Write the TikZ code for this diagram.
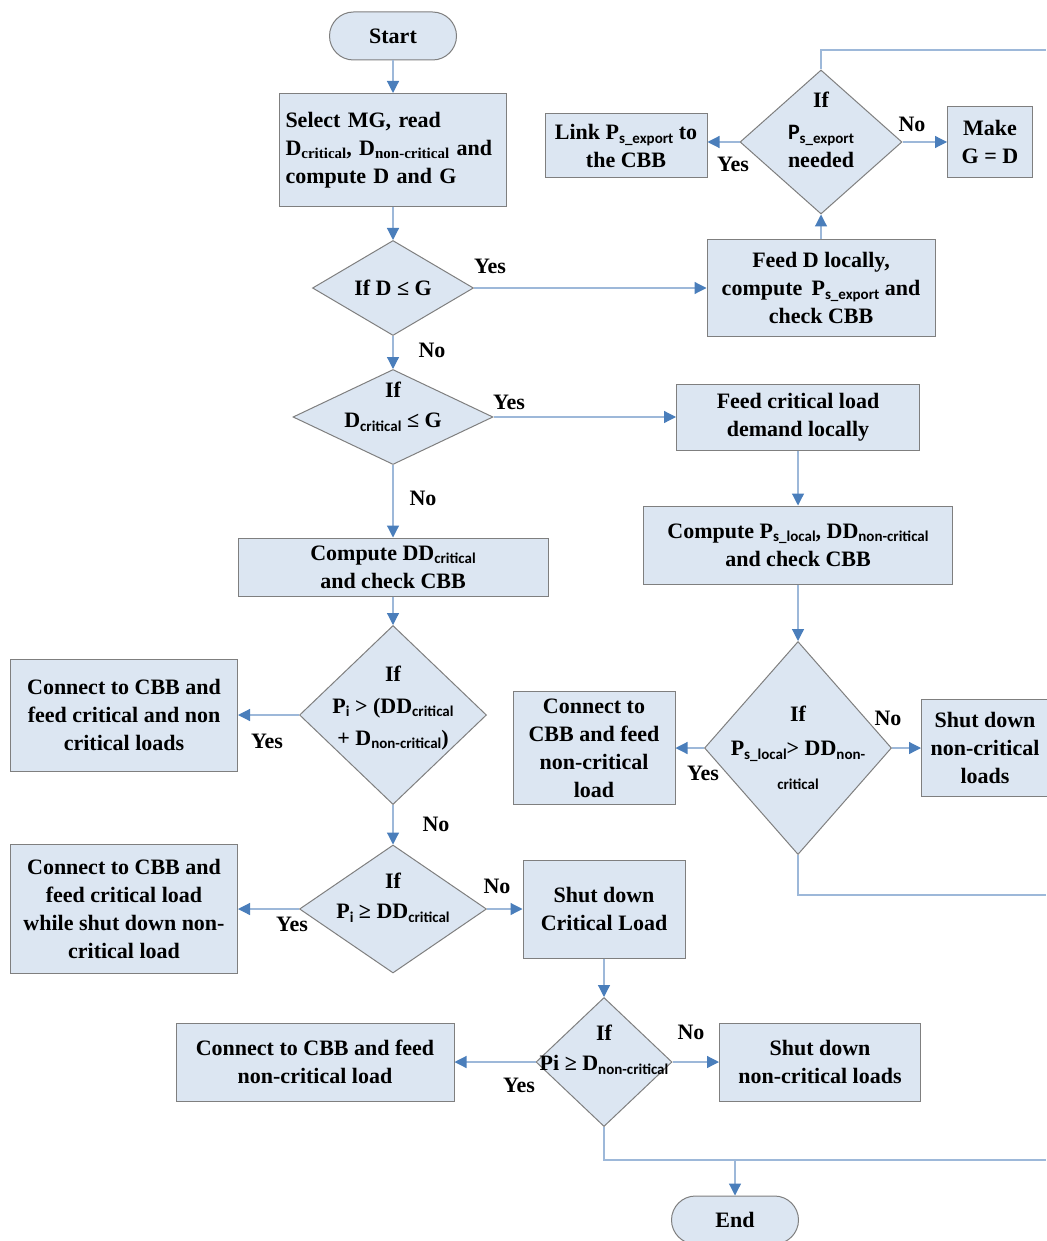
\documentclass[tikz,border=0pt]{standalone}
\usepackage{fontspec}
\setmainfont{Liberation Serif}
\newfontfamily\subfont{Carlito}
\usetikzlibrary{arrows.meta,positioning,shapes.geometric}
\definecolor{fillc}{HTML}{DCE6F2}
\definecolor{bordc}{HTML}{7F7F7F}
\definecolor{linec}{HTML}{9DB8D9}
\definecolor{arrc}{HTML}{4A7EBB}
\newcommand{\lo}[1]{\raisebox{-0.35ex}{\fontsize{15}{15}\selectfont\subfont #1}}
\newcommand{\los}[1]{\raisebox{-0.35ex}{\fontsize{15}{15}\selectfont #1}}

\begin{document}
\begin{tikzpicture}[x=1pt,y=-1pt,
      font=\fontsize{22}{28}\selectfont\bfseries,
      box/.style={draw=bordc,fill=fillc,line width=1pt,align=center,inner sep=2pt},
      term/.style={box,rounded corners=24pt,minimum width=127pt,minimum height=48pt},
      dec/.style={draw=bordc,fill=fillc,line width=1pt,diamond,inner sep=0pt},
      dtxt/.style={align=center,inner sep=0pt},
      line/.style={draw=linec,line width=1.2pt},
      arr/.style={line,-{Triangle[length=12pt,width=12pt,color=arrc]}}]
    \useasboundingbox (0,0) rectangle (1046,1241);
    % main column
    \node[term] (start) at (393,36) {Start};
    \node[box,minimum width=227pt,minimum height=113pt,align=left,text width=215pt] (sel) at (393,150)
      {Select MG, read\\D\los{critical}, D\los{non-critical} and\\compute D and G};
    \node[dec,minimum width=161pt,minimum height=95pt,label={[dtxt]center:If D ≤ G}] (d1) at (393,288) {};
    \node[dec,minimum width=200pt,minimum height=95pt,label={[dtxt,yshift=10pt]center:{If\\[2pt]D\lo{critical} ≤ G}}] (d3) at (393,417) {};
    \node[box,minimum width=310pt,minimum height=58pt] (ddc) at (393,567) {Compute DD\lo{critical}\\and check CBB};
    \node[dec,minimum width=187pt,minimum height=179pt,label={[dtxt,yshift=7pt]center:{If\\[4pt]P\lo{i} > (DD\lo{critical}\\[4pt]+ D\lo{non-critical})}}] (d5) at (393,715) {};
    \node[dec,minimum width=187pt,minimum height=128pt,label={[dtxt,yshift=11pt]center:{If\\[2pt]P\lo{i} ≥ DD\lo{critical}}}] (d6) at (393,909) {};
    \node[box,minimum width=227pt,minimum height=112pt] (conn5) at (124,715) {Connect to CBB and\\feed critical and non\\critical loads};
    \node[box,minimum width=227pt,minimum height=129pt] (conn6) at (124,909) {Connect to CBB and\\feed critical load\\while shut down non-\\critical load};
    \node[box,minimum width=162pt,minimum height=98pt] (shutc) at (604,909) {Shut down\\Critical Load};
    \node[dec,minimum width=136pt,minimum height=129pt,label={[dtxt,yshift=12pt]center:{If\\[2pt]Pi ≥ D\lo{non-critical}}}] (d7) at (604,1062) {};
    \node[box,minimum width=278pt,minimum height=78pt] (conn7) at (315,1062) {Connect to CBB and feed\\non-critical load};
    \node[box,minimum width=201pt,minimum height=78pt] (shut7) at (820,1062) {Shut down\\non-critical loads};
    \node[term] (end) at (735,1220) {End};
    % upper right
    \node[box,minimum width=228pt,minimum height=96pt] (feedD) at (821,288) {Feed D locally,\\compute\, P\lo{s\_export} and\\check CBB};
    \node[dec,minimum width=162pt,minimum height=144pt,label={[dtxt,yshift=12pt]center:{If\\[4pt]{\subfont P\lo{s\_export}}\\needed}}] (d2) at (821,142) {};
    \node[box,minimum width=162pt,minimum height=64pt] (link) at (626,146) {Link P\lo{s\_export} to\\the CBB};
    \node[box,minimum width=85pt,minimum height=71pt] (make) at (990,142) {Make\\G = D};
    % right column
    \node[box,minimum width=243pt,minimum height=66pt] (crit) at (798,417) {Feed critical load\\demand locally};
    \node[box,minimum width=309pt,minimum height=78pt] (cloc) at (798,545) {Compute P\lo{s\_local}, DD\lo{non-critical}\\and check CBB};
    \node[dec,minimum width=187pt,minimum height=213pt,label={[dtxt]center:{If\\[6pt]P\lo{s\_local}> DD\lo{non-}\\[2pt]\lo{critical}}}] (d4) at (798,748) {};
    \node[box,minimum width=162pt,minimum height=113pt] (conn4) at (594,748) {Connect to\\CBB and feed\\non-critical\\load};
    \node[box,minimum width=127pt,minimum height=97pt] (shut4) at (985,748) {Shut down\\non-critical\\loads};
    % loose ends
    \coordinate (r1) at (1046,50);
    \coordinate (r2) at (1046,895);
    \coordinate (r3) at (1046,1160);
    \coordinate (j) at (735,1160);
    % connectors
    \draw[arr] (start) -- (sel);
    \draw[arr] (sel) -- (d1);
    \draw[arr] (d1.east) -- (feedD.west);
    \draw[arr] (feedD) -- (d2.south);
    \draw[arr] (d2.west) -- (d2.west -| link.east);
    \draw[arr] (d2.east) -- (make.west);
    \draw[line] (d2.north) |- (r1);
    \draw[arr] (d1.south) -- (d3.north);
    \draw[arr] (d3.east) -- (crit.west);
    \draw[arr] (crit) -- (cloc);
    \draw[arr] (cloc) -- (d4.north);
    \draw[arr] (d4.west) -- (conn4.east);
    \draw[arr] (d4.east) -- (shut4.west);
    \draw[line] (d4.south) |- (r2);
    \draw[arr] (d3.south) -- (ddc.north);
    \draw[arr] (ddc) -- (d5.north);
    \draw[arr] (d5.west) -- (conn5.east);
    \draw[arr] (d5.south) -- (d6.north);
    \draw[arr] (d6.west) -- (conn6.east);
    \draw[arr] (d6.east) -- (shutc.west);
    \draw[arr] (shutc) -- (d7.north);
    \draw[arr] (d7.west) -- (conn7.east);
    \draw[arr] (d7.east) -- (shut7.west);
    \draw[line] (d7.south) |- (r3);
    \draw[arr] (j) -- (end);
    % branch labels
    \node (y1) at (490,266) {Yes};
    \node (n1) at (432,350) {No};
    \node (y2) at (733,164) {Yes};
    \node (n2) at (912,124) {No};
    \node (y3) at (509,402) {Yes};
    \node (n3) at (423,498) {No};
    \node (y4) at (703,773) {Yes};
    \node (n4) at (888,718) {No};
    \node (y5) at (267,741) {Yes};
    \node (n5) at (436,824) {No};
    \node (y6) at (292,924) {Yes};
    \node (n6) at (497,886) {No};
    \node (y7) at (519,1085) {Yes};
    \node (n7) at (691,1032) {No};
  \end{tikzpicture}
\end{document}
